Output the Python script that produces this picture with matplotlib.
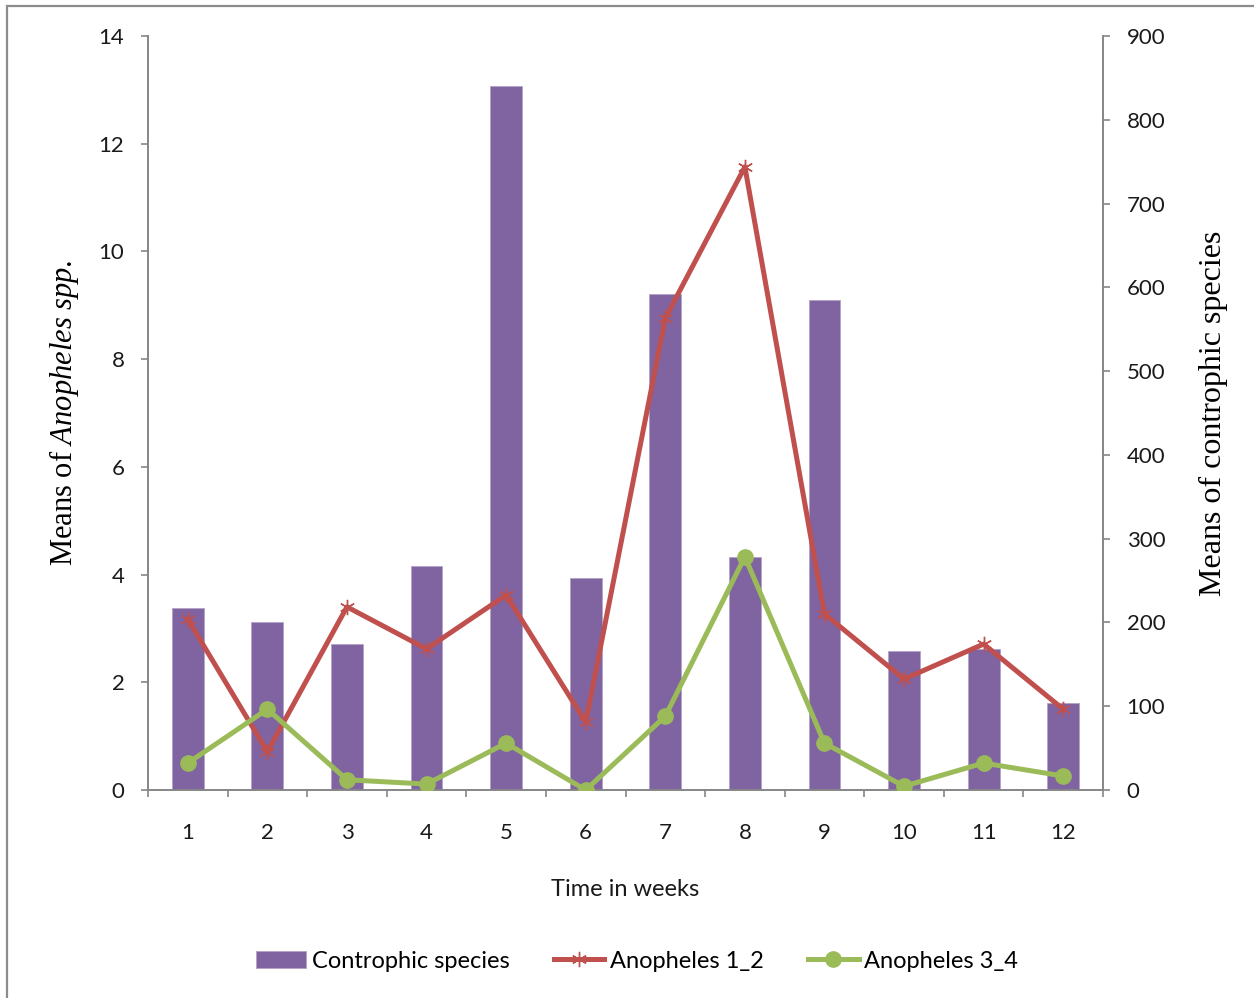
import matplotlib.pyplot as plt
import numpy as np
from matplotlib.patches import Rectangle


weeks = np.arange(1, 13)
week_labels = [str(w) for w in weeks]

# controphic species (right axis)
controphic = [217, 200, 174, 267, 840, 253, 592, 278, 585, 166, 168, 104]

# anopheles means (left axis)
anoph_12 = [3.17, 0.71, 3.40, 2.62, 3.62, 1.26, 8.76, 11.57, 3.27, 2.06, 2.71, 1.50]
anoph_34 = [0.50, 1.50, 0.19, 0.11, 0.87, 0.00, 1.37, 4.33, 0.87, 0.07, 0.50, 0.26]

PURPLE = '#8064A2'
RED = '#C0504D'
GREEN = '#9BBB59'
AXGRAY = '#868686'

TICKFONT = 'Lato'
SERIF = 'Liberation Serif'

plt.rcParams['mathtext.fontset'] = 'custom'
plt.rcParams['mathtext.it'] = 'Liberation Serif:italic'
plt.rcParams['mathtext.rm'] = 'Liberation Serif'


fig = plt.figure(figsize=(12.54, 9.98), dpi=100)

# outer frame (only left/top visible in reference)
fig.patches.append(Rectangle((7/1254, -0.1), 1.2, 1 - 6/998 + 0.1,
                             transform=fig.transFigure, fill=False,
                             ec='#8c8c8c', lw=1.6, zorder=0))

ax1 = fig.add_axes([148/1254, 1 - 790/998, (1103 - 148)/1254, (790 - 36)/998])
ax2 = ax1.twinx()

# bars behind lines
ax1.set_zorder(ax2.get_zorder() + 1)
ax1.patch.set_visible(False)

ax2.bar(weeks, controphic, width=0.4, color=PURPLE, edgecolor='#b3a2c7',
        linewidth=0.6, label='Controphic species')

ax1.plot(weeks, anoph_12, color=RED, lw=3.6, marker=(6, 2, 0), ms=11,
         mec=RED, mew=1.0, label='Anopheles 1_2', zorder=3)
ax1.plot(weeks, anoph_34, color=GREEN, lw=3.6, marker='o', ms=11,
         mec=GREEN, label='Anopheles 3_4', zorder=4)

ax1.set_ylim(0, 14)
ax2.set_ylim(0, 900)
ax1.set_xlim(0.5, 12.5)

ax1.set_yticks(np.arange(0, 15, 2))
ax2.set_yticks(np.arange(0, 901, 100))

ax1.set_xticks(np.arange(0.5, 13, 1))
ax1.set_xticklabels([])
ax1.set_xticks(weeks, minor=True)
ax1.set_xticklabels(week_labels, minor=True)

for ax in [ax1, ax2]:
    ax.spines['top'].set_visible(False)
    for s in ['left', 'right', 'bottom']:
        ax.spines[s].set_color(AXGRAY)
        ax.spines[s].set_linewidth(1.2)

ax1.tick_params(axis='y', direction='out', length=5, width=1.2, color=AXGRAY,
                pad=12, labelsize=16, labelcolor='#1a1a1a')
ax2.tick_params(axis='y', direction='out', length=5, width=1.2, color=AXGRAY,
                pad=12, labelsize=16, labelcolor='#1a1a1a')
ax1.tick_params(axis='x', which='major', direction='out', length=5, width=1.2,
                color=AXGRAY)
ax1.tick_params(axis='x', which='minor', length=0, pad=24, labelsize=16,
                labelcolor='#1a1a1a')

for lab in ax1.get_yticklabels() + ax2.get_yticklabels() + \
        ax1.get_xticklabels(minor=True):
    lab.set_fontfamily(TICKFONT)

ax1.set_xlabel('Time in weeks', fontsize=17, family=TICKFONT, labelpad=26,
               color='#1a1a1a')
ax1.set_ylabel(r'Means of $\mathit{Anopheles\ spp.}$', fontsize=22, family=SERIF)
ax1.yaxis.set_label_coords(-0.07, 0.5)
ax2.set_ylabel('Means of controphic species', fontsize=23, family=SERIF)
ax2.yaxis.set_label_coords(1.10, 0.5)

h2, l2 = ax2.get_legend_handles_labels()
h1, l1 = ax1.get_legend_handles_labels()
leg = fig.legend(h2 + h1, l2 + l1, loc='center', bbox_to_anchor=(637/1254, 1 - 961/998),
                 ncol=3, frameon=False, handlelength=2.15,
                 handletextpad=0.25, columnspacing=1.85,
                 prop={'family': TICKFONT, 'size': 17})

fig.savefig('out.png', dpi=100)
